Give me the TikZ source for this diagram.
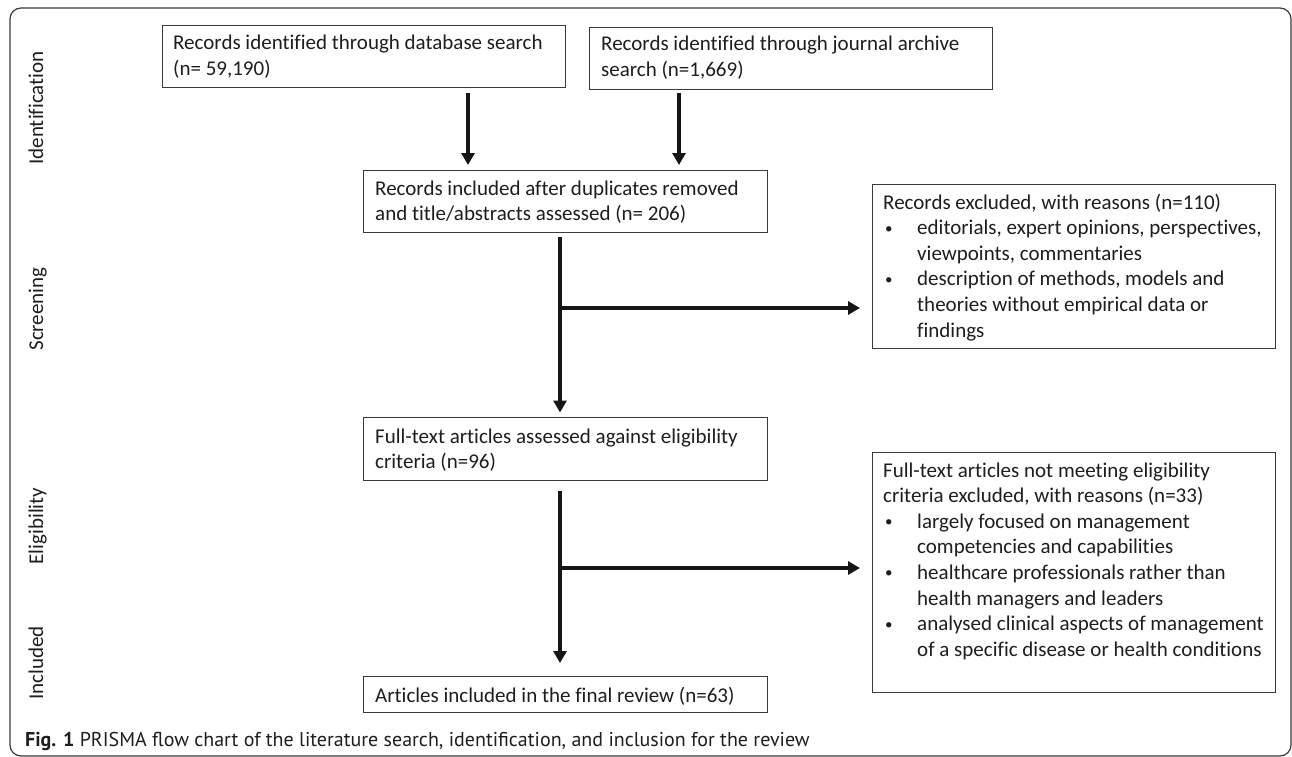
\documentclass[tikz,border=0pt]{standalone}
\usepackage{fontspec}
\setmainfont{Carlito}[Ligatures=NoCommon]
\newfontfamily\capfont{PT Sans}
\usetikzlibrary{arrows.meta}
\definecolor{txt}{HTML}{1E1E1E}
\definecolor{boxline}{HTML}{3A3A3A}
\definecolor{arrowc}{HTML}{161616}
\newcommand\blines[1]{\vtop{\halign{##\hfil\cr#1\crcr}}}
\newcommand\bul{\hbox to 34pt{\hskip 2pt\raisebox{1.5pt}{\fontsize{15}{15}\selectfont\textbullet}\hfil}}
\newcommand\ind{\hbox to 34pt{}}
\tikzset{
  boxn/.style={draw=boxline, line width=1.2pt, anchor=north west, inner sep=0pt, fill=none},
  txtn/.style={anchor=base west, inner sep=0pt, text=txt, font=\fontsize{21}{25.6}\selectfont},
  sidelab/.style={anchor=base, rotate=90, inner sep=0pt, text=txt, font=\fontsize{21}{25.6}\selectfont},
  arr/.style={draw=arrowc, line width=4pt, -{Triangle[width=13pt,length=12pt]}}
}
\begin{document}
\begin{tikzpicture}[x=1pt,y=-1pt]
\useasboundingbox (0,0) rectangle (1292,757);
\fill[white] (0,0) rectangle (1292,757);
% outer frame
\draw[draw=boxline, line width=1.2pt, rounded corners=11pt] (10,8) rectangle (1291,756);

% side labels
\node[sidelab] (lid) at (43,108) {Identification};
\node[sidelab] (lsc) at (43,309) {Screening};
\node[sidelab] (lel) at (43,526) {Eligibility};
\node[sidelab] (lin) at (43,663) {Included};

% boxes
\node[boxn, minimum width=403pt, minimum height=62pt] (b1) at (162,25) {};
\node[boxn, minimum width=403pt, minimum height=62pt] (b2) at (589,27) {};
\node[boxn, minimum width=404pt, minimum height=62pt] (b3) at (363,170) {};
\node[boxn, minimum width=403pt, minimum height=164pt] (b4) at (872,184) {};
\node[boxn, minimum width=404pt, minimum height=63pt] (b5) at (363,417) {};
\node[boxn, minimum width=403pt, minimum height=240pt] (b6) at (872,452) {};
\node[boxn, minimum width=404pt, minimum height=36pt] (b7) at (363,676) {};

% texts
\node[txtn] (t1) at (173,50) {\blines{Records identified through database search\cr (n= 59,190)}};
\node[txtn] (t2) at (601,51) {\blines{Records identified through journal archive\cr search (n=1,669)}};
\node[txtn] (t3) at (375,195) {\blines{Records included after duplicates removed\cr and title/abstracts assessed (n= 206)}};
\node[txtn] (t4) at (883,209) {\blines{Records excluded, with reasons (n=110)\cr
\bul editorials, expert opinions, perspectives,\cr
\ind viewpoints, commentaries\cr
\bul description of methods, models and\cr
\ind theories without empirical data or\cr
\ind findings}};
\node[txtn] (t5) at (375,443) {\blines{Full-text articles assessed against eligibility\cr criteria (n=96)}};
\node[txtn] (t6) at (883,477) {\blines{Full-text articles not meeting eligibility\cr
criteria excluded, with reasons (n=33)\cr
\bul largely focused on management\cr
\ind competencies and capabilities\cr
\bul healthcare professionals rather than\cr
\ind health managers and leaders\cr
\bul analysed clinical aspects of management\cr
\ind of a specific disease or health conditions}};
\node[txtn] (t7) at (375,702) {Articles included in the final review (n=63)};

% connectors
\coordinate (xa) at (468,0);
\coordinate (xb) at (679,0);
\coordinate (xm) at (560,0);
\coordinate (ya) at (0,308);
\coordinate (yb) at (0,568);
\draw[arr] ([yshift=-5pt]b1.south -| xa) -- ([yshift=5pt]b3.north -| xa);
\draw[arr] ([yshift=-3pt]b2.south -| xb) -- ([yshift=5pt]b3.north -| xb);
\draw[arr] ([yshift=-4pt]b3.south -| xm) -- ([yshift=4.5pt]b5.north -| xm);
\coordinate (j1) at (xm |- ya);
\draw[arr] ([xshift=-2pt]j1) -- ([xshift=-12pt]b4.west |- ya);
\draw[arr] ([yshift=-10pt]b5.south -| xm) -- ([yshift=13pt]b7.north -| xm);
\coordinate (j2) at (xm |- yb);
\draw[arr] ([xshift=-2pt]j2) -- ([xshift=-12pt]b6.west |- yb);

% caption
\node[anchor=base west, inner sep=0pt, text=txt, font=\capfont\fontsize{20}{24}\selectfont] (cap) at (25,746)
  {\textbf{Fig. 1} PRISMA flow chart of the literature search, identification, and inclusion for the review};
\end{tikzpicture}
\end{document}
